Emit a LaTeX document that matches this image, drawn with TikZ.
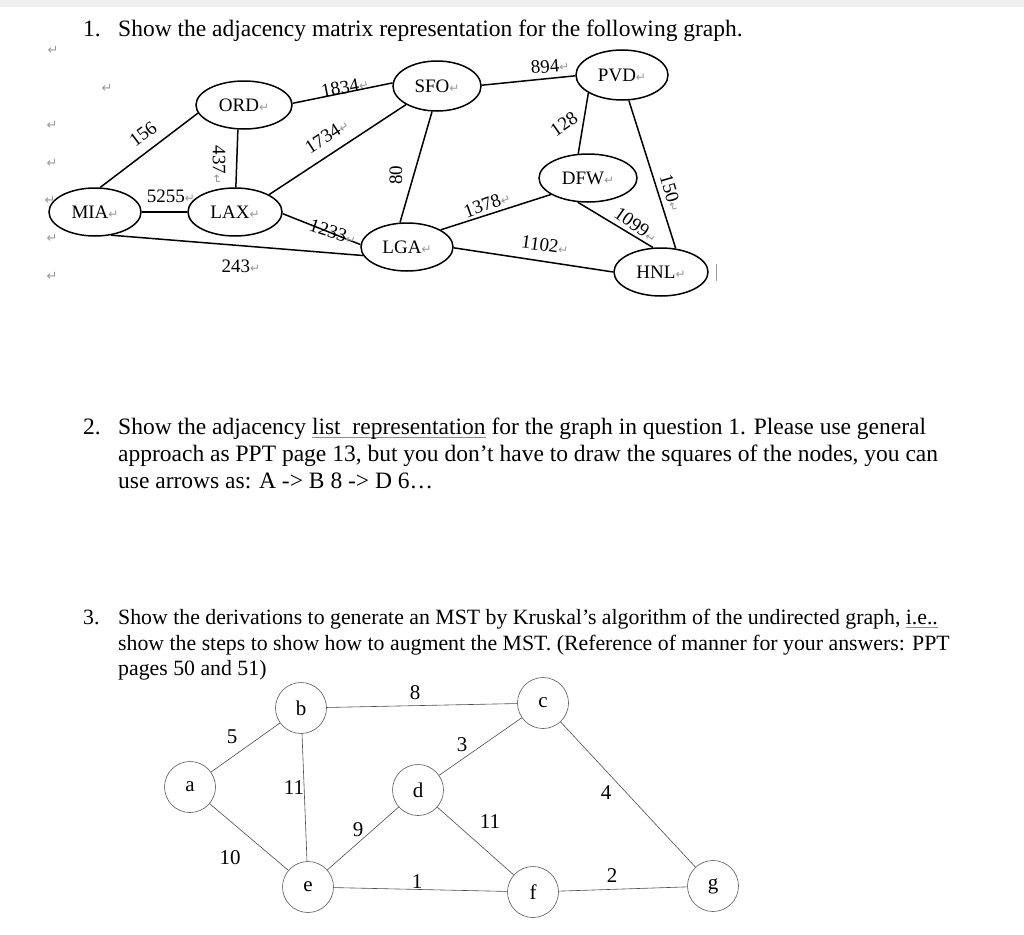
\documentclass[tikz,border=0pt]{standalone}
\usepackage{fontspec}
\setmainfont{Liberation Serif}
\newfontfamily\djv{DejaVu Sans}
\usetikzlibrary{shapes.geometric}
\definecolor{pmc}{gray}{0.6}
\definecolor{ulc}{RGB}{125,145,180}
\newcommand{\pmk}{{\djv\fontsize{12}{12}\selectfont\color{pmc}↵}}
\newcommand{\ulk}[1]{\setbox0\hbox{#1}\rlap{\color{ulc}\rule[-4pt]{\wd0}{1pt}}\box0\relax}
\tikzset{
  body/.style={font=\fontsize{23.5}{27}\selectfont, anchor=base west, inner sep=0},
  bodyb/.style={font=\fontsize{21.8}{25}\selectfont, anchor=base west, inner sep=0},
  city/.style={draw, ellipse, line width=1.5pt, fill=white, inner sep=0, font=\fontsize{19}{19}\selectfont},
  road/.style={line width=1.5pt},
  wt/.style={font=\fontsize{19}{19}\selectfont, inner sep=0},
  vtx/.style={circle, draw=black!65, line width=0.6pt, minimum size=51pt, inner sep=0, font=\fontsize{21}{21}\selectfont, fill=white},
  kedge/.style={draw=black!70, line width=0.6pt},
  kw/.style={font=\fontsize{21}{21}\selectfont, inner sep=0},
  margin/.style={font=\djv\fontsize{13}{13}\selectfont, text=pmc, inner sep=0}
}
\begin{document}
\begin{tikzpicture}[x=1pt,y=-1pt]
\useasboundingbox (0,0) rectangle (1024,934);
\fill[white] (0,0) rectangle (1024,934);
\fill[black!6] (0,0) rectangle (1024,7);

% question texts
\node[body] (q1n) at (83,37) {1.};
\node[body] (q1) at (118,37) {Show the adjacency matrix representation for the following graph.};

\node[body] (q2n) at (83,434) {2.};
\node[body] (q2a) at (118,434) {Show the adjacency \ulk{list\ \ representation} for the graph in question 1. Please use general};
\node[body] (q2b) at (118,461) {approach as PPT page 13, but you don’t have to draw the squares of the nodes, you can};
\node[body] (q2c) at (118,488) {use arrows as: A -> B 8 -> D 6…};

\node[bodyb] (q3n) at (83,624) {3.};
\node[bodyb] (q3a) at (118,624) {Show the derivations to generate an MST by Kruskal’s algorithm of the undirected graph, \ulk{i.e..}};
\node[bodyb] (q3b) at (118,650) {show the steps to show how to augment the MST. (Reference of manner for your answers: PPT};
\node[bodyb] (q3c) at (118,675) {pages 50 and 51)};

% margin marks
\node[margin] (m1) at (53,50) {↵};
\node[margin] (m2) at (107,88) {↵};
\node[margin] (m3) at (52,125) {↵};
\node[margin] (m4) at (52,163) {↵};
\node[margin] (m5) at (50,200) {↵};
\node[margin] (m6) at (52,238) {↵};
\node[margin] (m7) at (52,276) {↵};

% cities
\node[city, minimum width=92pt, minimum height=48pt] (MIA) at (95,212) {MIA\pmk};
\node[city, minimum width=96pt, minimum height=48pt] (ORD) at (244,105) {ORD\pmk};
\node[city, minimum width=94pt, minimum height=48pt] (LAX) at (235,212) {LAX\pmk};
\node[city, minimum width=88pt, minimum height=50pt] (SFO) at (437,86) {SFO\pmk};
\node[city, minimum width=92pt, minimum height=50pt] (PVD) at (622,75) {PVD\pmk};
\node[city, minimum width=98pt, minimum height=48pt] (DFW) at (588,178) {DFW\pmk};
\node[city, minimum width=92pt, minimum height=48pt] (LGA) at (407,247) {LGA\pmk};
\node[city, minimum width=94pt, minimum height=48pt] (HNL) at (661,272) {HNL\pmk};
\draw[black!40, line width=0.8pt] (716,264) -- (716,281);

% roads
\draw[road] (MIA.78) -- (ORD.190);
\draw[road] (MIA.0) -- (LAX.180);
\draw[road] (MIA.-55) -- (LGA.191);
\draw[road] (ORD.256) -- (LAX.88);
\draw[road] (ORD.2) -- (SFO.176);
\draw[road] (LAX.27) -- (SFO.211);
\draw[road] (LAX.-2) -- (LGA.177);
\draw[road] (SFO.259) -- (LGA.106);
\draw[road] (SFO.1) -- (PVD.181);
\draw[road] (PVD.208) -- (DFW.112);
\draw[road] (PVD.285) -- (HNL.58);
\draw[road] (DFW.247) -- (HNL.108);
\draw[road] (DFW.204) -- (LGA.27);
\draw[road] (LGA.-1) -- (HNL.180);

% weights
\node[wt, rotate=37] (w156) at (143,134) {156};
\node[wt] (w5255) at (171,196) {5255\pmk};
\node[wt] (w243) at (241,266) {243\pmk};
\node[wt, rotate=-90] (w437) at (219,165) {437\pmk};
\node[wt, rotate=11] (w1834) at (345,87) {1834\pmk};
\node[wt, rotate=33] (w1734) at (327,136) {1734\pmk};
\node[wt, rotate=-18] (w1233) at (333,232) {1233\pmk};
\node[wt, rotate=90] (w80) at (396,175) {80};
\node[wt, rotate=20] (w1378) at (487,204) {1378\pmk};
\node[wt, rotate=5] (w894) at (550,66) {894\pmk};
\node[wt, rotate=35] (w128) at (564,124) {128};
\node[wt, rotate=-74] (w150) at (671,193) {150\pmk};
\node[wt, rotate=-35] (w1099) at (636,225) {1099\pmk};
\node[wt, rotate=-8] (w1102) at (545,245) {1102\pmk};

% Kruskal graph
\node[vtx] (a) at (190,787) {a};
\node[vtx] (b) at (301,708) {b};
\node[vtx] (c) at (543,703) {c};
\node[vtx] (d) at (418,790) {d};
\node[vtx] (e) at (308,887) {e};
\node[vtx] (f) at (533,892) {f};
\node[vtx] (g) at (713,886) {g};

\draw[kedge] (a) -- (b);
\draw[kedge] (a) -- (e);
\draw[kedge] (b) -- (e);
\draw[kedge] (b) -- (c);
\draw[kedge] (c) -- (d);
\draw[kedge] (e) -- (d);
\draw[kedge] (d) -- (f);
\draw[kedge] (e) -- (f);
\draw[kedge] (c) -- (g);
\draw[kedge] (f) -- (g);

\node[kw] (k5) at (232,737) {5};
\node[kw] (k10) at (230,858) {10};
\node[kw] (k11a) at (294,788) {11};
\node[kw] (k8) at (415,693) {8};
\node[kw] (k3) at (462,745) {3};
\node[kw] (k9) at (358,830) {9};
\node[kw] (k11b) at (490,822) {11};
\node[kw] (k1) at (417,882) {1};
\node[kw] (k4) at (606,793) {4};
\node[kw] (k2) at (612,876) {2};
\end{tikzpicture}
\end{document}
